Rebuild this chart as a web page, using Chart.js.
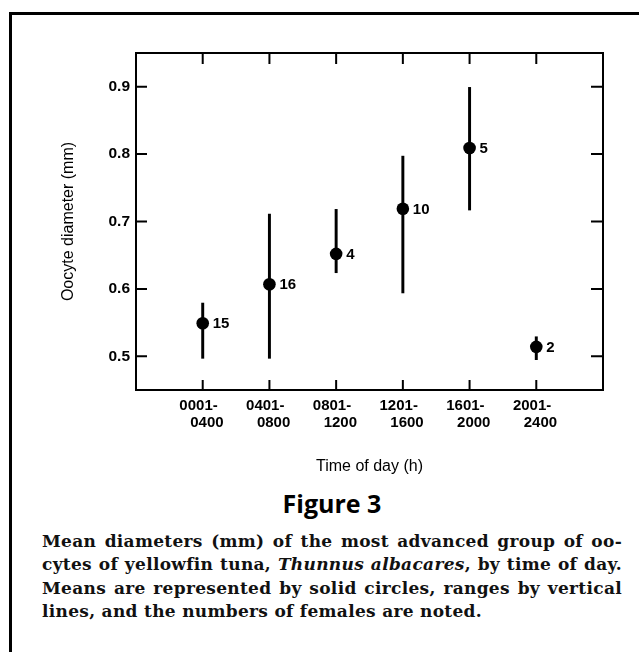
<!DOCTYPE html>
<html>
<head>
<meta charset="utf-8">
<script src="https://cdn.jsdelivr.net/npm/chart.js@4.4.1/dist/chart.umd.min.js"></script>
<style>
body { margin: 0; background: #fff; }
#frame { position: absolute; left: 9px; top: 12px; width: 640px; height: 650px; border-top: 3px solid #000; border-left: 3px solid #000; }
#chart { position: absolute; left: 0; top: 0; }
#fig { position: absolute; left: 42px; width: 580px; top: 488px; text-align: center; font-family: "Open Sans"; font-weight: 700; font-size: 25px; line-height: 30px; color: #000; }
#caption { position: absolute; left: 42px; width: 580px; top: 530px; font-family: "DejaVu Serif"; font-weight: 700; font-size: 17px; letter-spacing: 0.3px; line-height: 23.3px; color: #111; white-space: nowrap; }
.j { text-align: justify; text-align-last: justify; }
</style>
</head>
<body>
<div id="frame"></div>
<canvas id="chart" width="639" height="480"></canvas>
<div id="fig">Figure 3</div>
<div id="caption">
  <div class="j">Mean diameters (mm) of the most advanced group of oo-</div>
  <div class="j">cytes of yellowfin tuna, <i>Thunnus albacares</i>, by time of day.</div>
  <div class="j">Means are represented by solid circles, ranges by vertical</div>
  <div>lines, and the numbers of females are noted.</div>
</div>
<script>
// time of day classes (two lines per tick)
var timeFrom = ['0001-', '0401-', '0801-', '1201-', '1601-', '2001-'];
var timeTo = ['0400', '0800', '1200', '1600', '2000', '2400'];
// oocyte diameter (mm): mean, range, number of females
var meanDiam = [0.549, 0.607, 0.652, 0.719, 0.809, 0.514];
var minDiam = [0.497, 0.497, 0.624, 0.594, 0.717, 0.495];
var maxDiam = [0.579, 0.711, 0.718, 0.797, 0.899, 0.529];
var nFemales = [15, 16, 4, 10, 5, 2];
var yTicks = [0.5, 0.6, 0.7, 0.8, 0.9];

var points = [];
var ranges = [];
for (var i = 0; i < meanDiam.length; i++) {
    points.push({x: i + 1, y: meanDiam[i]});
    ranges.push({x: i + 1, y: [minDiam[i], maxDiam[i]]});
}

// frame round the plot, with ticks pointing inwards on all four sides
var boxPlugin = {
    id: 'box',
    afterDraw: function(chart) {
        var ctx = chart.ctx;
        var a = chart.chartArea;
        var xs = chart.scales.x;
        var ys = chart.scales.y;
        ctx.save();
        ctx.strokeStyle = '#000';
        ctx.lineWidth = 2;
        ctx.strokeRect(a.left, a.top, a.right - a.left, a.bottom - a.top);
        ctx.beginPath();
        xs.ticks.forEach(function(t) {
            var px = xs.getPixelForValue(t.value);
            ctx.moveTo(px, a.bottom); ctx.lineTo(px, a.bottom - 10);
            ctx.moveTo(px, a.top); ctx.lineTo(px, a.top + 11);
        });
        ys.ticks.forEach(function(t) {
            var py = ys.getPixelForValue(t.value);
            ctx.moveTo(a.left, py); ctx.lineTo(a.left + 11, py);
            ctx.moveTo(a.right, py); ctx.lineTo(a.right - 12, py);
        });
        ctx.stroke();
        ctx.restore();
    }
};

// sample sizes written next to the means
var countPlugin = {
    id: 'counts',
    afterDatasetsDraw: function(chart) {
        var ctx = chart.ctx;
        var meta = chart.getDatasetMeta(0);
        ctx.save();
        ctx.fillStyle = '#000';
        ctx.font = 'bold 15px "Liberation Sans"';
        ctx.textAlign = 'left';
        ctx.textBaseline = 'middle';
        meta.data.forEach(function(pt, i) {
            ctx.fillText(String(nFemales[i]), pt.x + 10, pt.y + 1);
        });
        ctx.restore();
    }
};

var ctx = document.getElementById('chart');
var chart = new Chart(ctx, {
    type: 'scatter',
    data: {
        datasets: [
            {
                type: 'scatter',
                data: points,
                pointRadius: 6.3,
                pointHoverRadius: 6.3,
                backgroundColor: '#000',
                borderColor: '#000',
                borderWidth: 0,
                order: 0
            },
            {
                type: 'bar',
                data: ranges,
                backgroundColor: '#000',
                borderWidth: 0,
                barThickness: 2.3,
                order: 1
            }
        ]
    },
    options: {
        responsive: false,
        animation: false,
        layout: {padding: {top: 53, right: 36, left: 0, bottom: 0}},
        plugins: {
            legend: {display: false},
            tooltip: {enabled: false}
        },
        scales: {
            x: {
                type: 'linear',
                min: 0,
                max: 7,
                offset: false,
                grid: {display: false, drawTicks: false},
                border: {display: false},
                afterBuildTicks: function(s) {
                    s.ticks = timeFrom.map(function(t, i) { return {value: i + 1}; });
                },
                afterFit: function(s) { s.height = 90; },
                ticks: {
                    autoSkip: false,
                    maxRotation: 0,
                    padding: 8,
                    color: '#000',
                    font: {family: 'Liberation Sans', size: 15, weight: 'bold', lineHeight: 1.1},
                    callback: function(v) {
                        var k = Math.round(v) - 1;
                        return [timeFrom[k] + '  ', '  ' + timeTo[k]];
                    }
                },
                title: {
                    display: true,
                    text: 'Time of day (h)',
                    color: '#000',
                    font: {family: 'Liberation Sans', size: 16},
                    padding: {top: 0, bottom: 4}
                }
            },
            y: {
                min: 0.45,
                max: 0.95,
                grid: {display: false, drawTicks: false},
                border: {display: false},
                afterBuildTicks: function(s) {
                    s.ticks = yTicks.map(function(v) { return {value: v}; });
                },
                afterFit: function(s) { s.width = 136; },
                ticks: {
                    padding: 6,
                    color: '#000',
                    font: {family: 'Liberation Sans', size: 15.5, weight: 'bold'},
                    callback: function(v) { return v.toFixed(1); }
                },
                title: {
                    display: true,
                    text: 'Oocyte diameter (mm)',
                    color: '#000',
                    font: {family: 'Liberation Sans', size: 16},
                    padding: {top: 59, bottom: 0}
                }
            }
        }
    },
    plugins: [boxPlugin, countPlugin]
});
</script>
</body>
</html>
